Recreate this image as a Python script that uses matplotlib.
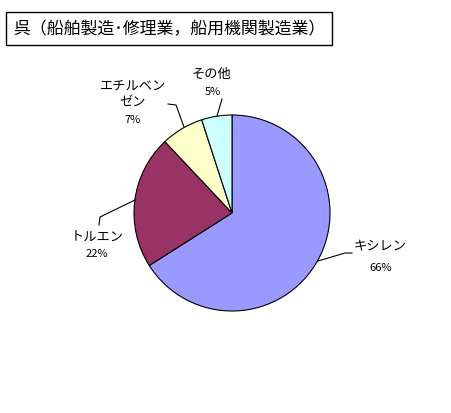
import numpy as np
import matplotlib.pyplot as plt
from matplotlib.patches import Rectangle

plt.rcParams['font.family'] = ['Noto Sans CJK JP', 'DejaVu Sans']

# データ
categories = ["キシレン", "トルエン", "エチルベン\nゼン", "その他"]
values = [66, 22, 7, 5]
colors = ["#9999FF", "#993366", "#FFFFCC", "#CCFFFF"]
title = "呉（船舶製造･修理業，船用機関製造業）"

W, H = 451, 414
fig = plt.figure(figsize=(W / 100, H / 100), dpi=100)
ax = fig.add_axes([0, 0, 1, 1])
ax.set_xlim(0, W)
ax.set_ylim(0, H)
ax.set_aspect('equal')
ax.axis('off')

cx, cy, r = 232, H - 214, 98
ax.pie(values, colors=colors, startangle=90, counterclock=False,
       center=(cx, cy), radius=r,
       wedgeprops=dict(edgecolor='black', linewidth=0.8))
ax.set_xlim(0, W)
ax.set_ylim(0, H)

# ラベル位置 (ピクセル座標) と引き出し線
label_pos = [(380, 247), (97, 237), (133, 95), (212, 74)]
pct_pos = [(381, 268), (97, 254), (133, 120), (213, 92)]
leaders = [
    [(318, 262), (345, 254), (352, 254)],
    [(135, 201), (100, 218), (99, 226)],
    [(184, 128), (176, 106), (168, 105)],
    [(217, 117), (222, 100)],
]

for name, v, lp, pp, ld in zip(categories, values, label_pos, pct_pos, leaders):
    ax.text(lp[0], H - lp[1], name, ha='center', va='center', fontsize=9.5,
            linespacing=1.25)
    ax.text(pp[0], H - pp[1], f"{v}%", ha='center', va='center', fontsize=8)
    xs = [p[0] for p in ld]
    ys = [H - p[1] for p in ld]
    ax.plot(xs, ys, color='black', linewidth=0.8)

# タイトル枠
ax.add_patch(Rectangle((6, H - 46), 326, 33, fill=False, edgecolor='black',
                       linewidth=1))
ax.text(169, H - 29.5, title, ha='center', va='center', fontsize=12.2)

fig.savefig("out.png", dpi=100)
